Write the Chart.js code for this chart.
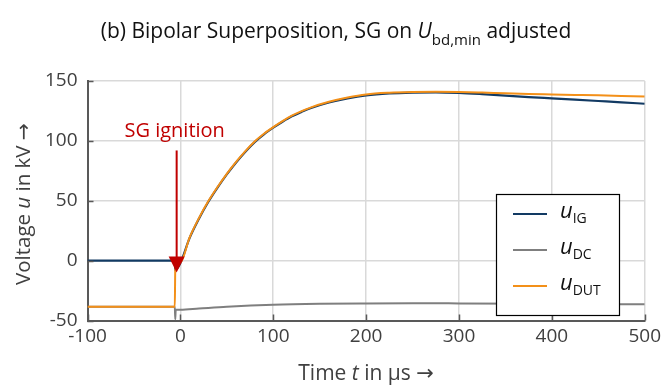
<!DOCTYPE html>
<html>
<head>
<meta charset="utf-8">
<script src="https://cdn.jsdelivr.net/npm/chart.js@4.4.1/dist/chart.umd.min.js"></script>
<style>
  html, body { margin: 0; padding: 0; background: #fff; }
  #wrap { width: 666px; height: 386px; position: relative; }
</style>
</head>
<body>
<div id="wrap"><canvas id="chart" width="666" height="386"></canvas></div>
<script>
// Values (time in µs, voltage in kV)
const xTicks = [-100, 0, 100, 200, 300, 400, 500];
const yTicks = [-50, 0, 50, 100, 150];

const igTime = [-100, -60, -20, -6, -5.5, 0, 10, 20, 30, 40, 50, 60, 70, 80, 90, 100, 110, 120, 130, 140, 160, 180, 200, 225, 250, 275, 300, 325, 350, 375, 400, 425, 450, 475, 500];
const igVolt = [0, 0, 0, 0, -8, -2, 19, 35, 49, 61, 72, 82, 91, 99, 105.5, 111, 116, 120.5, 124, 127.2, 132, 135.5, 138, 139.6, 140.3, 140.5, 140, 139, 137.8, 136.6, 135.5, 134.4, 133.3, 132.2, 131];

const dcTime = [-100, -6, -5.5, -5, 0, 20, 50, 100, 150, 200, 250, 300, 400, 500];
const dcVolt = [-38.5, -38.5, -49, -41, -41, -40, -38.5, -36.8, -36, -35.7, -35.6, -35.7, -36, -36.5];

const dutTime = [-100, -60, -20, -6, -5.5, 0, 10, 20, 30, 40, 50, 60, 70, 80, 90, 100, 110, 120, 130, 140, 160, 180, 200, 225, 250, 275, 300, 325, 350, 375, 400, 425, 450, 475, 500];
const dutVolt = [-38.5, -38.5, -38.5, -38.5, -8, -1.5, 19.5, 35.5, 49.5, 61.5, 72.5, 82.5, 91.5, 99.5, 106, 111.5, 116.5, 121, 124.6, 127.8, 132.6, 136.2, 138.8, 140.2, 140.8, 141, 140.8, 140.3, 139.7, 139.2, 138.8, 138.4, 138, 137.5, 137];

// "SG ignition" arrow: time, start and tip voltage
const arrowTime = -4;
const arrowFrom = 92;
const arrowTo = -10;
const arrowLabel = 'SG ignition';

const seriesNames = [['u', 'IG'], ['u', 'DC'], ['u', 'DUT']];
const seriesColors = ['#123a63', '#7f7f7f', '#f39019'];

const toPoints = (ts, vs) => ts.map((t, i) => ({ x: t, y: vs[i] }));

const FONT = '"Open Sans", "DejaVu Sans", sans-serif';
const TXT = '#404040';

// draw a run of text pieces (normal / italic / subscript) starting at x
function drawRich(ctx, parts, x, y) {
    let cx = x;
    parts.forEach(p => {
        ctx.font = p.font;
        ctx.fillText(p.text, cx, y + (p.dy || 0));
        cx += ctx.measureText(p.text).width;
    });
    return cx - x;
}
function richWidth(ctx, parts) {
    let w = 0;
    parts.forEach(p => { ctx.font = p.font; w += ctx.measureText(p.text).width; });
    return w;
}

const decorPlugin = {
    id: 'decor',
    afterDraw(chart) {
        const ctx = chart.ctx;
        const area = chart.chartArea;
        const xs = chart.scales.x, ys = chart.scales.y;
        ctx.save();
        ctx.textBaseline = 'alphabetic';
        ctx.textAlign = 'left';

        // title
        ctx.fillStyle = '#111';
        const title = [
            { text: '(b) Bipolar Superposition, SG on ', font: `21px ${FONT}` },
            { text: 'U', font: `italic 21px ${FONT}` },
            { text: 'bd,min', font: `15px ${FONT}`, dy: 7 },
            { text: ' adjusted', font: `21px ${FONT}` }
        ];
        drawRich(ctx, title, 336 - richWidth(ctx, title) / 2, 38);

        // x axis title
        ctx.fillStyle = TXT;
        const xt = [
            { text: 'Time ', font: `21px ${FONT}` },
            { text: 't', font: `italic 21px ${FONT}` },
            { text: ' in µs →', font: `21px ${FONT}` }
        ];
        drawRich(ctx, xt, (area.left + area.right) / 2 - richWidth(ctx, xt) / 2, 380);

        // y axis title
        const yt = [
            { text: 'Voltage ', font: `20.5px ${FONT}` },
            { text: 'u', font: `italic 20.5px ${FONT}` },
            { text: ' in kV →', font: `20.5px ${FONT}` }
        ];
        ctx.save();
        ctx.translate(30, 204);
        ctx.rotate(-Math.PI / 2);
        drawRich(ctx, yt, -richWidth(ctx, yt) / 2, 0);
        ctx.restore();

        // inward tick marks
        ctx.strokeStyle = '#595959';
        ctx.lineWidth = 1.5;
        ctx.beginPath();
        xTicks.forEach(v => {
            const px = Math.round(xs.getPixelForValue(v)) + 0.5;
            ctx.moveTo(px, area.bottom);
            ctx.lineTo(px, area.bottom - 6);
        });
        yTicks.forEach(v => {
            const py = Math.round(ys.getPixelForValue(v)) + 0.5;
            ctx.moveTo(area.left, py);
            ctx.lineTo(area.left + 6, py);
        });
        ctx.stroke();

        // ignition arrow
        const ax = xs.getPixelForValue(arrowTime);
        const a0 = ys.getPixelForValue(arrowFrom);
        const a1 = ys.getPixelForValue(arrowTo);
        ctx.strokeStyle = '#c00000';
        ctx.fillStyle = '#c00000';
        ctx.lineWidth = 2;
        ctx.beginPath();
        ctx.moveTo(ax, a0);
        ctx.lineTo(ax, a1 - 14);
        ctx.stroke();
        ctx.beginPath();
        ctx.moveTo(ax - 8, a1 - 16);
        ctx.lineTo(ax + 8, a1 - 16);
        ctx.lineTo(ax, a1);
        ctx.closePath();
        ctx.fill();
        ctx.font = `20px ${FONT}`;
        ctx.textAlign = 'center';
        ctx.fillText(arrowLabel, ax - 2, a0 - 13);
        ctx.textAlign = 'left';

        // legend box
        const lx = 496, ly = 194, lw = 123, lh = 121;
        ctx.fillStyle = '#fff';
        ctx.fillRect(lx, ly, lw, lh);
        ctx.strokeStyle = '#000';
        ctx.lineWidth = 1.2;
        ctx.strokeRect(lx + 0.5, ly + 0.5, lw, lh);
        seriesNames.forEach((n, i) => {
            const cy = 214 + i * 36;
            ctx.strokeStyle = seriesColors[i];
            ctx.lineWidth = 2;
            ctx.beginPath();
            ctx.moveTo(513, cy);
            ctx.lineTo(547, cy);
            ctx.stroke();
            ctx.fillStyle = '#111';
            drawRich(ctx, [
                { text: n[0], font: `italic 22px ${FONT}` },
                { text: n[1], font: `14px ${FONT}`, dy: 5 }
            ], 560, cy + 4);
        });
        ctx.restore();
    }
};

const ctx = document.getElementById('chart').getContext('2d');
new Chart(ctx, {
    type: 'line',
    data: {
        datasets: [{
            label: 'u_IG',
            data: toPoints(igTime, igVolt),
            borderColor: seriesColors[0],
            borderWidth: 2.2,
            order: 1
        }, {
            label: 'u_DC',
            data: toPoints(dcTime, dcVolt),
            borderColor: seriesColors[1],
            borderWidth: 2,
            order: 2
        }, {
            label: 'u_DUT',
            data: toPoints(dutTime, dutVolt),
            borderColor: seriesColors[2],
            borderWidth: 2,
            order: 0
        }]
    },
    options: {
        responsive: false,
        animation: false,
        elements: { point: { radius: 0 }, line: { cubicInterpolationMode: 'monotone' } },
        layout: { padding: { left: 0, right: 20, top: 81, bottom: 0 } },
        plugins: {
            legend: { display: false },
            title: { display: false },
            tooltip: { enabled: false }
        },
        scales: {
            x: {
                type: 'linear',
                min: -100,
                max: 500,
                afterBuildTicks: (s) => { s.ticks = xTicks.map(v => ({ value: v })); },
                afterFit: (s) => { s.height = 65.5; },
                ticks: { color: TXT, font: { family: FONT, size: 19 }, padding: 5, maxRotation: 0 },
                grid: { color: '#d9d9d9', lineWidth: 1.5, drawTicks: false },
                border: { color: '#595959', width: 2 }
            },
            y: {
                min: -50,
                max: 150,
                afterBuildTicks: (s) => { s.ticks = yTicks.map(v => ({ value: v })); },
                afterFit: (s) => { s.width = 87.5; },
                ticks: { color: TXT, font: { family: FONT, size: 19 }, padding: 10 },
                grid: { color: '#d9d9d9', lineWidth: 1.5, drawTicks: false },
                border: { color: '#595959', width: 2 }
            }
        }
    },
    plugins: [decorPlugin]
});
</script>
</body>
</html>
